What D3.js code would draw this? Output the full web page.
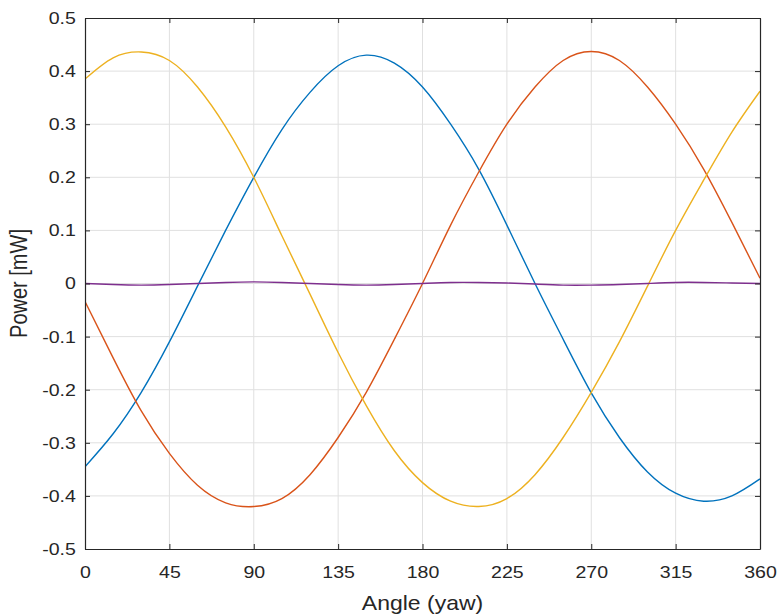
<!DOCTYPE html>
<meta charset="utf-8">
<script src="https://cdn.jsdelivr.net/npm/d3@7"></script>
<style>
    body { margin: 0; background: #fff; }
    .tick text { font-family: "Liberation Sans", Arial, sans-serif; font-size: 17px; fill: #262626; }
    .label { font-family: "Liberation Sans", Arial, sans-serif; font-size: 20px; fill: #262626; }
    .grid line { stroke: #e0e0e0; stroke-width: 1; }
    .axis path, .axis line { stroke: #262626; }
</style>
<body>
<script>
    // angles (deg) the curves are read at
    const angles = [0, 15, 30, 45, 60, 75, 90, 105, 120, 135, 150, 165, 180,
        195, 210, 225, 240, 255, 270, 285, 300, 315, 330, 345, 360];

    // power readings [mW], one array per sensor
    const blue = [-0.345, -0.283, -0.205, -0.11, -0.005, 0.10, 0.20, 0.29, 0.36, 0.41, 0.43, 0.415, 0.37,
        0.30, 0.215, 0.11, 0.0, -0.105, -0.206, -0.29, -0.355, -0.395, -0.41, -0.40, -0.368];
    const orange = [-0.034, -0.14, -0.24, -0.32, -0.38, -0.413, -0.42, -0.405, -0.36, -0.29, -0.205, -0.105, 0.0,
        0.11, 0.21, 0.30, 0.37, 0.42, 0.437, 0.42, 0.37, 0.30, 0.215, 0.115, 0.01];
    const yellow = [0.385, 0.425, 0.436, 0.42, 0.37, 0.295, 0.20, 0.09, -0.02, -0.13, -0.23, -0.315, -0.375,
        -0.41, -0.42, -0.405, -0.36, -0.29, -0.205, -0.11, -0.005, 0.10, 0.195, 0.285, 0.362];
    const purple = [0, -0.002, -0.003, -0.002, 0, 0.002, 0.003, 0.002, 0, -0.002, -0.003, -0.002, 0,
        0.002, 0.002, 0.001, -0.001, -0.003, -0.003, -0.002, 0, 0.002, 0.002, 0.001, 0];

    const xTicks = [0, 45, 90, 135, 180, 225, 270, 315, 360];
    const yTicks = [-0.5, -0.4, -0.3, -0.2, -0.1, 0, 0.1, 0.2, 0.3, 0.4, 0.5];

    const series = [
        {values: blue, color: "#0072BD"},
        {values: orange, color: "#D95319"},
        {values: yellow, color: "#EDB120"},
        {values: purple, color: "#7E2F8E"}
    ];

    const width = 779, height = 616;
    const margin = {top: 18, right: 19, bottom: 67, left: 85};
    const w = width - margin.left - margin.right,
        h = height - margin.top - margin.bottom;

    // the picture is a bit stretched sideways, so is the text
    const stretch = 1.15;

    const svg = d3.select("body").append("svg")
        .attr("width", width)
        .attr("height", height);

    const g = svg.append("g")
        .attr("transform", "translate(" + margin.left + "," + margin.top + ")");

    const x = d3.scaleLinear().domain([0, 360]).range([0, w]);
    const y = d3.scaleLinear().domain([-0.5, 0.5]).range([h, 0]);

    // grid
    g.append("g").attr("class", "grid")
        .selectAll("line").data(xTicks.slice(1, -1)).enter().append("line")
        .attr("x1", d => x(d)).attr("x2", d => x(d))
        .attr("y1", 0).attr("y2", h);
    g.append("g").attr("class", "grid")
        .selectAll("line").data(yTicks.slice(1, -1)).enter().append("line")
        .attr("y1", d => y(d)).attr("y2", d => y(d))
        .attr("x1", 0).attr("x2", w);

    const line = d3.line()
        .x((d, i) => x(angles[i]))
        .y(d => y(d))
        .curve(d3.curveNatural);

    g.append("defs").append("clipPath").attr("id", "clip")
        .append("rect").attr("width", w).attr("height", h);

    g.append("g").attr("clip-path", "url(#clip)")
        .selectAll("path").data(series).enter().append("path")
        .attr("d", d => line(d.values))
        .attr("fill", "none")
        .attr("stroke", d => d.color)
        .attr("stroke-width", 1.4);

    const yFmt = d => d === 0 ? "0" : d.toFixed(1);

    // axes, ticks pointing inward
    const xAxis = g.append("g").attr("class", "axis")
        .attr("transform", "translate(0," + h + ")")
        .call(d3.axisBottom(x).tickValues(xTicks).tickSizeInner(-5).tickSizeOuter(0).tickPadding(17));
    const yAxis = g.append("g").attr("class", "axis")
        .call(d3.axisLeft(y).tickValues(yTicks).tickFormat(yFmt).tickSizeInner(-5).tickSizeOuter(0).tickPadding(8));
    g.append("g").attr("class", "axis")
        .call(d3.axisTop(x).tickValues(xTicks).tickSizeInner(-5).tickSizeOuter(0).tickFormat(""));
    g.append("g").attr("class", "axis")
        .attr("transform", "translate(" + w + ",0)")
        .call(d3.axisRight(y).tickValues(yTicks).tickSizeInner(-5).tickSizeOuter(0).tickFormat(""));

    g.selectAll(".axis path").attr("stroke-width", 1.2);
    xAxis.selectAll("text").attr("transform", "scale(" + stretch + ",1)");
    yAxis.selectAll("text").attr("transform", "scale(" + stretch + ",1)");

    svg.append("text").attr("class", "label")
        .attr("text-anchor", "middle")
        .attr("transform", "translate(" + (margin.left + w / 2) + ",610) scale(" + stretch + ",1)")
        .text("Angle (yaw)");

    svg.append("text").attr("class", "label")
        .attr("text-anchor", "middle")
        .attr("transform", "translate(27," + (margin.top + h / 2) + ") rotate(-90) scale(1," + stretch + ")")
        .text("Power [mW]");
</script>
</body>
</html>
